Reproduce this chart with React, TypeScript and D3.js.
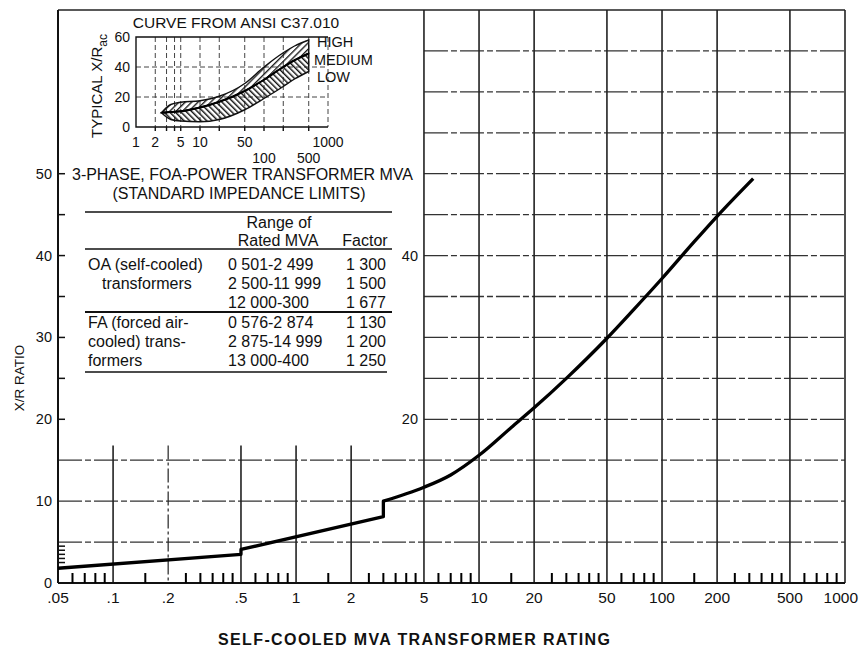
import React from "react";
import * as d3 from "d3";

const WIDTH = 859;
const HEIGHT = 649;
const FONT = "'Liberation Sans', Arial, Helvetica, sans-serif";

// main curve: X/R ratio against self-cooled MVA rating
const curveMva = [0.05, 0.5, 0.5, 3, 3, 4, 5, 7, 10, 15, 20, 30, 50, 70, 100, 150, 200, 315];
const curveXR = [1.8, 3.5, 4.1, 8.1, 10.0, 10.9, 11.7, 13.2, 15.6, 19.0, 21.4, 25.0, 29.9, 33.4, 37.2, 41.7, 44.8, 49.4];

const xLabelValues = [0.05, 0.1, 0.2, 0.5, 1, 2, 5, 10, 20, 50, 100, 200, 500, 1000];
const xLabelText = [".05", ".1", ".2", ".5", "1", "2", "5", "10", "20", "50", "100", "200", "500", "1000"];
const minorSteps = [1.5, 2.5, 3, 3.5, 4, 4.5, 6, 7, 8, 9];
const decades = [0.01, 0.1, 1, 10, 100];
const yLabels = [0, 10, 20, 30, 40, 50];
const yInnerLabels = [20, 40];
const yShortTicks = [2.5, 3, 3.5, 4, 4.5, 20, 25, 30, 35, 40, 45, 50];
const fullGridX = [5, 10, 20, 50, 100, 200, 500, 1000];
const lowGridX = [0.1, 0.2, 0.5, 1, 2];
const lowGridY = [5, 10, 15];
const upperGridY = [20, 25, 30, 35, 40, 45, 50, 55, 60, 65];

// inset: typical X/R bands from ANSI C37.010
const insetMva = [2.5, 3.5, 5, 10, 20, 50, 100, 200, 300, 500];
const highXR = [9.5, 15, 16.5, 17.5, 20.5, 29, 40, 49.5, 54, 58];
const mediumXR = [9.5, 10, 10.5, 13, 16.8, 24, 31.5, 40, 44.5, 49];
const lowXR = [9.5, 5, 4, 3.5, 5, 11.5, 19, 27, 32, 37];
const insetXTop = [1, 2, 5, 10, 50, 1000];
const insetXBottom = [100, 500];
const insetYLabels = [0, 20, 40, 60];
const insetGridX = [2, 3, 4, 5, 10, 20, 50, 100, 200, 500];
const insetGridY = [20, 40];
const bandNames = ["HIGH", "MEDIUM", "LOW"];

// table
const oaLabel = ["OA (self-cooled)", "transformers", ""];
const oaRanges = ["0 501-2 499", "2 500-11 999", "12 000-300"];
const oaFactors = ["1 300", "1 500", "1 677"];
const faLabel = ["FA (forced air-", "cooled) trans-", "formers"];
const faRanges = ["0 576-2 874", "2 875-14 999", "13 000-400"];
const faFactors = ["1 130", "1 200", "1 250"];

const x = d3.scaleLog().domain([0.05, 1000]).range([58, 845]);
const y = d3.scaleLinear().domain([0, 70]).range([583, 10]);
const ix = d3.scaleLog().domain([1, 1000]).range([136, 328]);
const iy = d3.scaleLinear().domain([0, 60]).range([127, 37]);

function curvePath() {
  const pts = curveMva.map((m, i) => [m, curveXR[i]] as [number, number]);
  const segs: [number, number][][] = [[]];
  pts.forEach((p, i) => {
    if (i > 0 && p[0] === pts[i - 1][0]) segs.push([]);
    segs[segs.length - 1].push(p);
  });
  const line = d3
    .line<[number, number]>()
    .x((d) => x(d[0]))
    .y((d) => y(d[1]))
    .curve(d3.curveMonotoneX);
  return segs.map((s, i) => (i === 0 ? line(s)! : "L" + line(s)!.slice(1))).join("");
}

// short log ticks along the bottom axis
function minorTickPath() {
  const p = d3.path();
  for (const d of decades) {
    for (const s of minorSteps) {
      const v = d * s;
      if (v > 0.0501 && v < 999) {
        p.moveTo(x(v), y(0));
        p.lineTo(x(v), y(0) - 10);
      }
    }
  }
  return p.toString();
}

const hDash = "24 3 6 3";

export default function App() {
  const upperBand = d3
    .area<number>()
    .x((_, i) => ix(insetMva[i]))
    .y0((_, i) => iy(mediumXR[i]))
    .y1((_, i) => iy(highXR[i]))
    .curve(d3.curveMonotoneX);
  const lowerBand = d3
    .area<number>()
    .x((_, i) => ix(insetMva[i]))
    .y0((_, i) => iy(lowXR[i]))
    .y1((_, i) => iy(mediumXR[i]))
    .curve(d3.curveMonotoneX);
  const bandLine = (vals: number[]) =>
    d3
      .line<number>()
      .x((_, i) => ix(insetMva[i]))
      .y((v) => iy(v))
      .curve(d3.curveMonotoneX)(vals)!;

  const rowY = (start: number, i: number) => start + i * 19;
  const last = xLabelValues.length - 1;

  return (
    <svg
      width={WIDTH}
      height={HEIGHT}
      style={{ position: "absolute", left: 0, top: 0, background: "#fff" }}
      fontFamily={FONT}
    >
      <defs>
        <pattern id="hatchUp" patternUnits="userSpaceOnUse" width="4.5" height="4.5" patternTransform="rotate(45)">
          <line x1="0.7" y1="0" x2="0.7" y2="4.5" stroke="#111" strokeWidth="1.3" />
        </pattern>
        <pattern id="hatchDown" patternUnits="userSpaceOnUse" width="4" height="4" patternTransform="rotate(-45)">
          <line x1="0.7" y1="0" x2="0.7" y2="4" stroke="#111" strokeWidth="1.5" />
        </pattern>
      </defs>

      {/* grid */}
      <g stroke="#333" strokeWidth="1.3" strokeDasharray={hDash}>
        {lowGridY.map((v) => (
          <line key={v} x1={x(0.05)} x2={x(1000)} y1={y(v)} y2={y(v)} />
        ))}
        {upperGridY.map((v) => (
          <line key={v} x1={x(5)} x2={x(1000)} y1={y(v)} y2={y(v)} />
        ))}
      </g>
      <line x1={x(0.05)} x2={x(1000)} y1={y(70)} y2={y(70)} stroke="#222" strokeWidth="1.5" />
      <g stroke="#222" strokeWidth="1.6">
        {fullGridX.map((v) => (
          <line key={v} x1={x(v)} x2={x(v)} y1={y(70)} y2={y(0)} />
        ))}
        {lowGridX.map((v) => (
          <line
            key={v}
            x1={x(v)}
            x2={x(v)}
            y1={y(16.8)}
            y2={y(0)}
            strokeDasharray={v === 0.2 ? "14 3 3 3" : undefined}
            strokeWidth={v === 0.2 ? 1.2 : 1.6}
          />
        ))}
      </g>

      {/* axes */}
      <line x1={x(0.05)} x2={x(0.05)} y1={y(70)} y2={y(0)} stroke="#111" strokeWidth="2" />
      <line x1={x(0.05)} x2={x(1000)} y1={y(0)} y2={y(0)} stroke="#111" strokeWidth="2" />
      <path d={minorTickPath()} stroke="#000" strokeWidth="2" fill="none" />
      <g stroke="#111" strokeWidth="1.5">
        {yShortTicks.map((v) => (
          <line key={"my" + v} x1={x(0.05)} x2={x(0.05) + 7} y1={y(v)} y2={y(v)} />
        ))}
      </g>
      <g fontSize="15.5" fill="#111">
        {xLabelValues.map((v, i) => (
          <text key={v} x={i === last ? WIDTH - 1 : x(v)} y={603} textAnchor={i === last ? "end" : "middle"}>
            {xLabelText[i]}
          </text>
        ))}
      </g>
      <g fontSize="14.5" textAnchor="end" fill="#111">
        {yLabels.map((v) => (
          <text key={v} x={52} y={y(v) + 5}>
            {v}
          </text>
        ))}
        {yInnerLabels.map((v) => (
          <text key={v} x={x(5) - 6} y={y(v) + 5}>
            {v}
          </text>
        ))}
      </g>
      <text transform="translate(24,378) rotate(-90)" textAnchor="middle" fontSize="13.5" fill="#111">
        X/R RATIO
      </text>
      <text x={414} y={645} textAnchor="middle" fontSize="16" fontWeight="bold" textLength="392" fill="#111">
        SELF-COOLED MVA TRANSFORMER RATING
      </text>

      {/* main curve */}
      <path d={curvePath()} fill="none" stroke="#000" strokeWidth="3.3" strokeLinejoin="round" />

      {/* inset plot */}
      <text x={236} y={28} textAnchor="middle" fontSize="15.5" fill="#111">
        CURVE FROM ANSI C37.010
      </text>
      <g stroke="#444" strokeWidth="1" strokeDasharray="5 3">
        {insetGridX.map((v) => (
          <line key={v} x1={ix(v)} x2={ix(v)} y1={iy(60)} y2={iy(0)} />
        ))}
        {insetGridY.map((v) => (
          <line key={v} x1={ix(1)} x2={ix(1000)} y1={iy(v)} y2={iy(v)} />
        ))}
        <line x1={ix(1000)} x2={ix(1000)} y1={iy(60)} y2={iy(0)} />
      </g>
      <g stroke="#111" strokeWidth="1.4" fill="none">
        <path d={`M${ix(1000)},${iy(60)}H${ix(1)}V${iy(0)}H${ix(1000)}`} />
        {insetGridX.map((v) => (
          <line key={v} x1={ix(v)} x2={ix(v)} y1={iy(0)} y2={iy(0) + 4} />
        ))}
      </g>
      <path d={upperBand(insetMva)!} fill="url(#hatchUp)" stroke="#111" strokeWidth="1.4" />
      <path d={lowerBand(insetMva)!} fill="url(#hatchDown)" stroke="#111" strokeWidth="1.4" />
      <path d={bandLine(mediumXR)} fill="none" stroke="#000" strokeWidth="2" />
      <g fontSize="14.5" fill="#111">
        {bandNames.map((n, i) => (
          <text key={n} x={n === "MEDIUM" ? 314 : 317} y={47 + i * 17.5}>
            {n}
          </text>
        ))}
      </g>
      <g fontSize="14" textAnchor="end" fill="#111">
        {insetYLabels.map((v) => (
          <text key={v} x={130} y={iy(v) + 5}>
            {v}
          </text>
        ))}
      </g>
      <g fontSize="14" textAnchor="middle" fill="#111">
        {insetXTop.map((v) => (
          <text key={v} x={ix(v)} y={147}>
            {v}
          </text>
        ))}
        {insetXBottom.map((v) => (
          <text key={v} x={ix(v)} y={163}>
            {v}
          </text>
        ))}
      </g>
      <text transform="translate(102,86) rotate(-90)" textAnchor="middle" fontSize="15" fill="#111">
        TYPICAL X/R
        <tspan fontSize="12" dy="5">
          ac
        </tspan>
      </text>

      {/* table */}
      <g fill="#111" fontSize="16">
        <text x={72} y={180} textLength="341">
          3-PHASE, FOA-POWER TRANSFORMER MVA
        </text>
        <text x={239} y={199} textAnchor="middle">
          (STANDARD IMPEDANCE LIMITS)
        </text>
        <text x={279} y={228} textAnchor="middle">
          Range of
        </text>
        <text x={278} y={246} textAnchor="middle">
          Rated MVA
        </text>
        <text x={365} y={246} textAnchor="middle">
          Factor
        </text>
        {oaLabel.map((t, i) => (
          <text key={"oal" + i} x={i === 1 ? 102 : 88} y={rowY(270, i)}>
            {t}
          </text>
        ))}
        {oaRanges.map((t, i) => (
          <text key={"oar" + i} x={228} y={rowY(270, i)}>
            {t}
          </text>
        ))}
        {oaFactors.map((t, i) => (
          <text key={"oaf" + i} x={386} y={rowY(270, i)} textAnchor="end">
            {t}
          </text>
        ))}
        {faLabel.map((t, i) => (
          <text key={"fal" + i} x={88} y={rowY(328, i)}>
            {t}
          </text>
        ))}
        {faRanges.map((t, i) => (
          <text key={"far" + i} x={228} y={rowY(328, i)}>
            {t}
          </text>
        ))}
        {faFactors.map((t, i) => (
          <text key={"faf" + i} x={386} y={rowY(328, i)} textAnchor="end">
            {t}
          </text>
        ))}
      </g>
      <g stroke="#111">
        <line x1={85} x2={392} y1={212} y2={212} strokeWidth="1.4" />
        <line x1={85} x2={392} y1={249} y2={249} strokeWidth="1.4" />
        <line x1={85} x2={392} y1={312} y2={312} strokeWidth="1.8" />
        <line x1={85} x2={387} y1={372} y2={372} strokeWidth="1.6" />
      </g>
    </svg>
  );
}
